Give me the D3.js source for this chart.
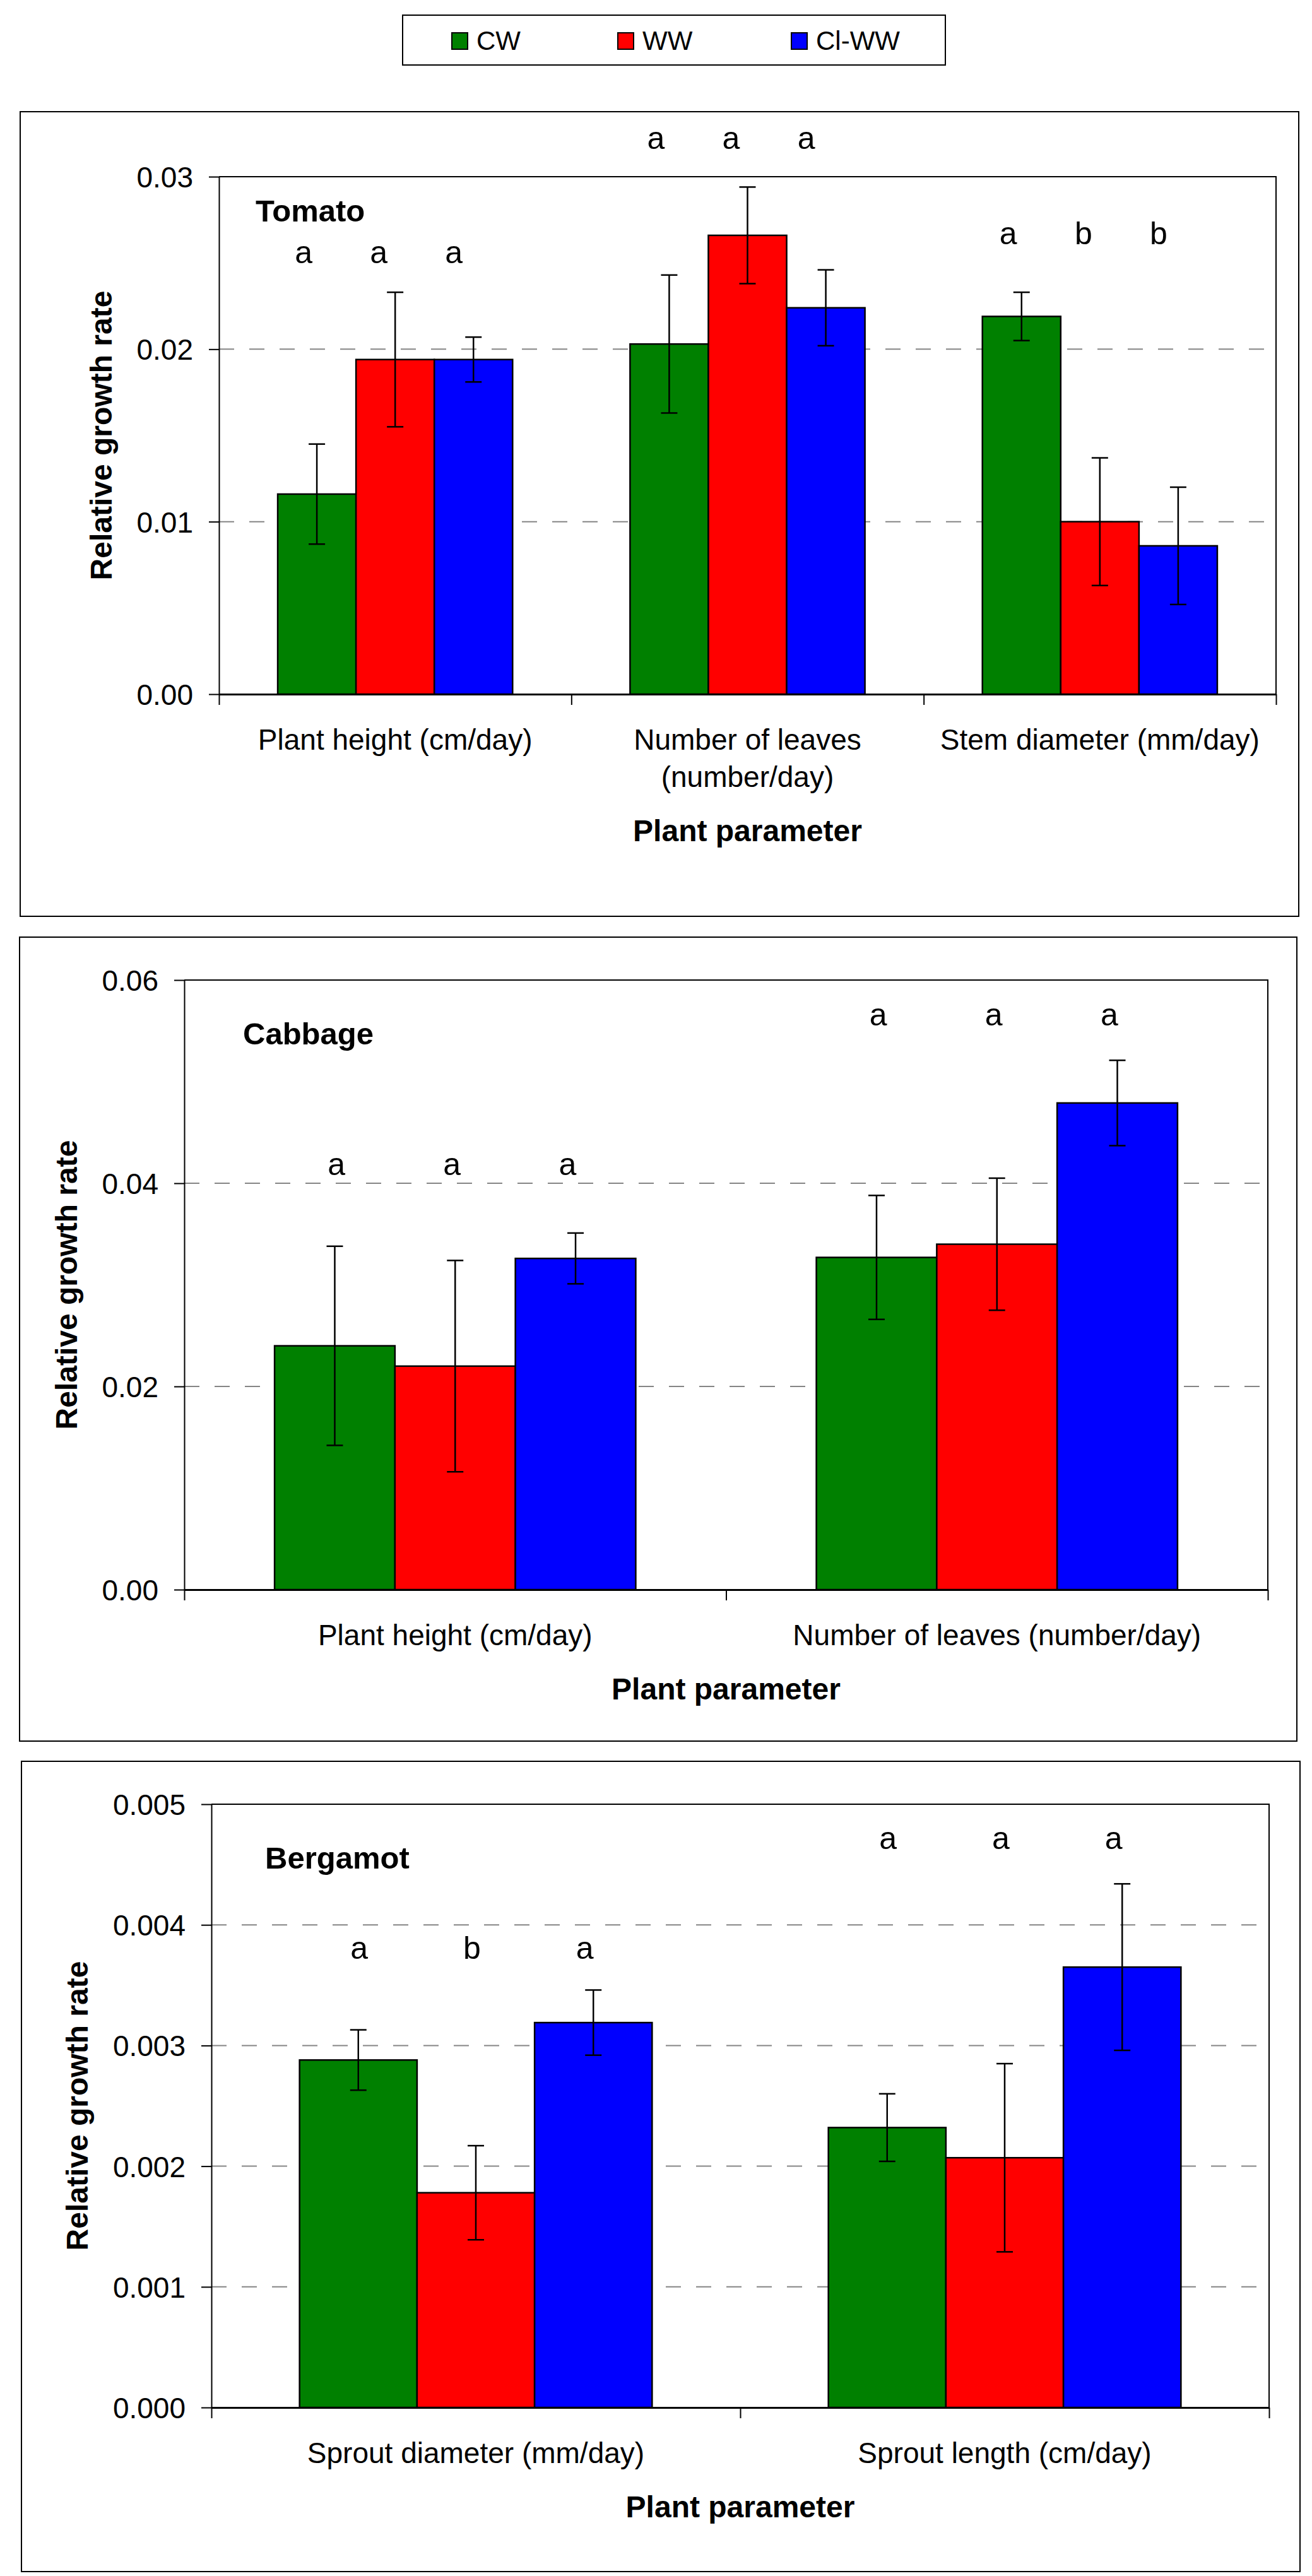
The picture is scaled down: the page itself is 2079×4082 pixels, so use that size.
<!DOCTYPE html>
<html>
<head>
<meta charset="utf-8">
<script src="https://cdn.jsdelivr.net/npm/d3@7"></script>
<style>
  body { margin: 0; background: #fff; }
  svg { display: block; }
</style>
</head>
<body>
<div id="chart"></div>
<script>
//DATA
const SERIES = ["CW", "WW", "Cl-WW"];
const SERIES_COLORS = ["#008000", "#ff0000", "#0000ff"];

const tomatoCats = ["Plant height (cm/day)", "Number of leaves\n(number/day)", "Stem diameter (mm/day)"];
const tomatoMeans = [[0.0116, 0.0194, 0.0194], [0.0203, 0.0266, 0.0224], [0.0219, 0.0100, 0.0086]];
const tomatoErrors = [[0.0029, 0.0039, 0.0013], [0.0040, 0.0028, 0.0022], [0.0014, 0.0037, 0.0034]];
const tomatoLetters = [["a", "a", "a"], ["a", "a", "a"], ["a", "b", "b"]];
const tomatoLetterLevel = [0.0250, 0.0316, 0.0261];
const tomatoTicks = [0, 0.01, 0.02, 0.03];

const cabbageCats = ["Plant height (cm/day)", "Number of leaves (number/day)"];
const cabbageMeans = [[0.0240, 0.0220, 0.0326], [0.0327, 0.0340, 0.0479]];
const cabbageErrors = [[0.0098, 0.0104, 0.0025], [0.0061, 0.0065, 0.0042]];
const cabbageLetters = [["a", "a", "a"], ["a", "a", "a"]];
const cabbageLetterLevel = [0.0408, 0.0555];
const cabbageTicks = [0, 0.02, 0.04, 0.06];

const bergamotCats = ["Sprout diameter (mm/day)", "Sprout length (cm/day)"];
const bergamotMeans = [[0.00288, 0.00178, 0.00319], [0.00232, 0.00207, 0.00365]];
const bergamotErrors = [[0.00025, 0.00039, 0.00027], [0.00028, 0.00078, 0.00069]];
const bergamotLetters = [["a", "b", "a"], ["a", "a", "a"]];
const bergamotLetterLevel = [0.00372, 0.00463];
const bergamotTicks = [0, 0.001, 0.002, 0.003, 0.004, 0.005];

const Y_TITLE = "Relative growth rate";
const X_TITLE = "Plant parameter";

//LAYOUT
const FONT = "'Liberation Sans', Arial, Helvetica, sans-serif";
const W = 2079, H = 4082;

const PANELS = [
    {
        name: "Tomato", cats: tomatoCats, means: tomatoMeans, errors: tomatoErrors,
        letters: tomatoLetters, letterLevel: tomatoLetterLevel, ticks: tomatoTicks, fmt: ".2f",
        box: [32, 177, 2058, 1452], plot: [347, 280, 2022, 1100],
        nameAt: [58, 71], letterDx: -26
    },
    {
        name: "Cabbage", cats: cabbageCats, means: cabbageMeans, errors: cabbageErrors,
        letters: cabbageLetters, letterLevel: cabbageLetterLevel, ticks: cabbageTicks, fmt: ".2f",
        box: [31, 1485, 2055, 2759], plot: [292, 1553, 2009, 2519],
        nameAt: [93, 102], letterDx: -5
    },
    {
        name: "Bergamot", cats: bergamotCats, means: bergamotMeans, errors: bergamotErrors,
        letters: bergamotLetters, letterLevel: bergamotLetterLevel, ticks: bergamotTicks, fmt: ".3f",
        box: [34, 2791, 2060, 4075], plot: [335, 2859, 2011, 3815],
        nameAt: [85, 102], letterDx: -6
    }
];

const svg = d3.select("#chart")
    .append("svg")
    .attr("width", W)
    .attr("height", H)
    .style("font-family", FONT);

svg.append("rect").attr("width", W).attr("height", H).attr("fill", "#fff");

//LEGEND
const legendBox = [638, 24, 1498, 103];
const legendX = [716, 979, 1254];

const legend = svg.append("g");
legend.append("rect")
    .attr("x", legendBox[0])
    .attr("y", legendBox[1])
    .attr("width", legendBox[2] - legendBox[0])
    .attr("height", legendBox[3] - legendBox[1])
    .attr("fill", "#fff")
    .attr("stroke", "#000")
    .attr("stroke-width", 2);

const items = legend.selectAll("g.item")
    .data(SERIES)
    .enter()
    .append("g")
    .attr("transform", (d, i) => `translate(${legendX[i]},52)`);

items.append("rect")
    .attr("width", 25)
    .attr("height", 26)
    .attr("fill", (d, i) => SERIES_COLORS[i])
    .attr("stroke", "#000")
    .attr("stroke-width", 2);

items.append("text")
    .attr("x", 39)
    .attr("y", 27)
    .attr("font-size", 42)
    .attr("fill", "#000")
    .text(d => d);

//PANELS
PANELS.forEach(drawPanel);

function drawPanel(p) {
    const [bx0, by0, bx1, by1] = p.box;
    const [left, top, right, bottom] = p.plot;
    const g = svg.append("g");

    // outer frame
    g.append("rect")
        .attr("x", bx0)
        .attr("y", by0)
        .attr("width", bx1 - bx0)
        .attr("height", by1 - by0)
        .attr("fill", "#fff")
        .attr("stroke", "#000")
        .attr("stroke-width", 2);

    const y = d3.scaleLinear()
        .domain([0, d3.max(p.ticks)])
        .range([bottom, top]);

    const x0 = d3.scaleBand()
        .domain(d3.range(p.cats.length))
        .range([left, right])
        .padding(0);

    // Excel gap width 150%: group = 2/3 of the band
    const groupW = x0.bandwidth() * 2 / 3;
    const x1 = d3.scaleBand()
        .domain(d3.range(SERIES.length))
        .range([(x0.bandwidth() - groupW) / 2, (x0.bandwidth() + groupW) / 2]);

    // gridlines
    g.append("g")
        .selectAll("line")
        .data(p.ticks.filter(t => t > 0 && t < d3.max(p.ticks)))
        .enter()
        .append("line")
        .attr("x1", left)
        .attr("x2", right)
        .attr("y1", d => y(d))
        .attr("y2", d => y(d))
        .attr("stroke", "#858585")
        .attr("stroke-width", 2)
        .attr("stroke-dasharray", "24,24");

    // bars
    const groups = g.append("g")
        .selectAll("g")
        .data(p.means)
        .enter()
        .append("g")
        .attr("transform", (d, i) => `translate(${x0(i)},0)`);

    groups.selectAll("rect")
        .data(d => d)
        .enter()
        .append("rect")
        .attr("x", (d, j) => x1(j))
        .attr("y", d => y(d))
        .attr("width", x1.bandwidth())
        .attr("height", d => y(0) - y(d))
        .attr("fill", (d, j) => SERIES_COLORS[j])
        .attr("stroke", "#000")
        .attr("stroke-width", 2.5);

    // error bars
    const errs = [];
    p.means.forEach((row, i) => row.forEach((m, j) => {
        errs.push({ i, j, lo: m - p.errors[i][j], hi: m + p.errors[i][j] });
    }));
    const cx = d => x0(d.i) + x1(d.j) + x1.bandwidth() / 2;
    const eb = g.append("g")
        .attr("stroke", "#000")
        .attr("stroke-width", 2.5);
    eb.selectAll("line.v")
        .data(errs)
        .enter()
        .append("line")
        .attr("x1", cx).attr("x2", cx)
        .attr("y1", d => y(d.lo)).attr("y2", d => y(d.hi));
    ["lo", "hi"].forEach(k => {
        eb.selectAll("line." + k)
            .data(errs)
            .enter()
            .append("line")
            .attr("x1", d => cx(d) - 13).attr("x2", d => cx(d) + 13)
            .attr("y1", d => y(d[k])).attr("y2", d => y(d[k]));
    });

    // plot area border (top and right)
    g.append("path")
        .attr("d", `M${left},${top}H${right}V${bottom}`)
        .attr("fill", "none")
        .attr("stroke", "#000")
        .attr("stroke-width", 2);

    // y axis
    const yAxis = g.append("g")
        .attr("transform", `translate(${left},0)`)
        .call(d3.axisLeft(y)
            .tickValues(p.ticks)
            .tickFormat(d3.format(p.fmt))
            .tickSize(16)
            .tickSizeOuter(0)
            .tickPadding(25));
    yAxis.attr("font-family", FONT).attr("font-size", 46);
    yAxis.select(".domain").attr("stroke", "#000").attr("stroke-width", 2);
    yAxis.selectAll(".tick line").attr("stroke", "#000").attr("stroke-width", 2);
    yAxis.selectAll(".tick text").attr("fill", "#000").attr("dy", "0.36em");

    // x axis (boundary ticks between categories)
    const xb = d3.scaleLinear().domain([0, p.cats.length]).range([left, right]);
    const xAxis = g.append("g")
        .attr("transform", `translate(0,${bottom})`)
        .call(d3.axisBottom(xb)
            .tickValues(d3.range(p.cats.length + 1))
            .tickFormat("")
            .tickSize(17)
            .tickSizeOuter(0));
    xAxis.select(".domain").attr("stroke", "#000").attr("stroke-width", 3);
    xAxis.selectAll(".tick line").attr("stroke", "#000").attr("stroke-width", 2);

    // category labels
    const labelBase = bottom + 88;
    const lineH = 59;
    g.append("g")
        .selectAll("text")
        .data(p.cats)
        .enter()
        .append("text")
        .attr("text-anchor", "middle")
        .attr("font-size", 46)
        .attr("fill", "#000")
        .each(function (d, i) {
            d.split("\n").forEach((line, k) => {
                d3.select(this).append("tspan")
                    .attr("x", x0(i) + x0.bandwidth() / 2)
                    .attr("y", labelBase + k * lineH)
                    .text(line);
            });
        });

    const maxLines = d3.max(p.cats, c => c.split("\n").length);

    // x title
    g.append("text")
        .attr("x", (left + right) / 2)
        .attr("y", labelBase + (maxLines - 1) * lineH + 86)
        .attr("text-anchor", "middle")
        .attr("font-size", 48)
        .attr("font-weight", "bold")
        .attr("fill", "#000")
        .text(X_TITLE);

    // y title, placed left of the widest tick label
    let labelLeft = left;
    yAxis.selectAll(".tick text").each(function () {
        labelLeft = Math.min(labelLeft, this.getBoundingClientRect().left);
    });
    const ty = (top + bottom) / 2;
    const tx = labelLeft - 56;
    g.append("text")
        .attr("transform", `translate(${tx},${ty}) rotate(-90)`)
        .attr("text-anchor", "middle")
        .attr("dominant-baseline", "central")
        .attr("font-size", 48)
        .attr("font-weight", "bold")
        .attr("fill", "#000")
        .text(Y_TITLE);

    // panel name
    g.append("text")
        .attr("x", left + p.nameAt[0])
        .attr("y", top + p.nameAt[1])
        .attr("font-size", 49)
        .attr("font-weight", "bold")
        .attr("fill", "#000")
        .text(p.name);

    // significance letters
    const letterData = [];
    p.letters.forEach((row, i) => row.forEach((t, j) => letterData.push({ i, j, t })));
    const step = x1.step() * 0.96;
    g.append("g")
        .selectAll("text")
        .data(letterData)
        .enter()
        .append("text")
        .attr("x", d => x0(d.i) + x0.bandwidth() / 2 + (d.j - 1) * step + p.letterDx)
        .attr("y", d => y(p.letterLevel[d.i]))
        .attr("text-anchor", "middle")
        .attr("font-size", 50)
        .attr("fill", "#000")
        .text(d => d.t);
}
</script>
</body>
</html>
